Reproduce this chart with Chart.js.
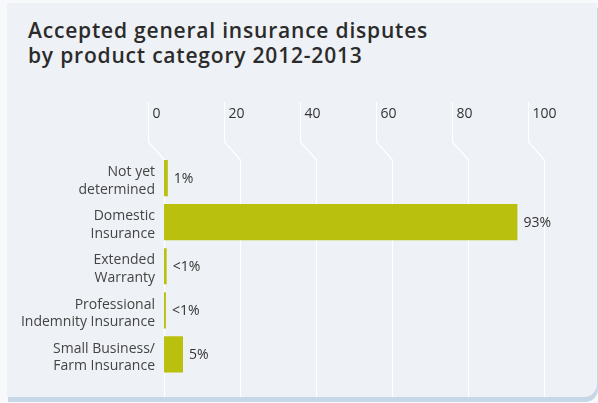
<!DOCTYPE html>
<html>
<head>
<meta charset="utf-8">
<script src="https://cdn.jsdelivr.net/npm/chart.js@4.4.1/dist/chart.umd.min.js"></script>
<style>
  html, body { margin: 0; padding: 0; background: #f7f9fb; }
  #wrap { position: relative; width: 598px; height: 403px; overflow: hidden; }
  #card {
    position: absolute; left: 7px; top: 3px; width: 590px; height: 394px;
    background: #eef1f5; border-bottom-right-radius: 13px;
    box-shadow: 1px 5px 0 #c6d7e7;
  }
  #title {
    position: absolute; left: 28px; top: 18px; margin: 0;
    font: 600 21px "Open Sans", sans-serif; line-height: 25px;
    letter-spacing: 0.8px; color: #2b2b2b;
  }
  #chart { position: absolute; left: 0; top: 0; }
</style>
</head>
<body>
<div id="wrap">
  <div id="card"></div>
  <h2 id="title">Accepted general insurance disputes<br>by product category 2012-2013</h2>
  <canvas id="chart" width="598" height="403"></canvas>
</div>
<script>
// categories, shares (%) and the printed labels
const categories = [
  ['Not yet', 'determined'],
  ['Domestic', 'Insurance'],
  ['Extended', 'Warranty'],
  ['Professional', 'Indemnity Insurance'],
  ['Small Business/', 'Farm Insurance']
];
const shares = [1, 93, 0.7, 0.5, 5];
const shareLabels = ['1%', '93%', '<1%', '<1%', '5%'];
const xTicks = [0, 20, 40, 60, 80, 100];

const FONT = '"Open Sans", sans-serif';

// white gridlines with a little jog under each tick label
const jogGrid = {
  id: 'jogGrid',
  beforeDatasetsDraw(chart) {
    const ctx = chart.ctx;
    const xs = chart.scales.x;
    ctx.save();
    ctx.strokeStyle = '#ffffff';
    ctx.lineWidth = 1.3;
    ctx.fillStyle = '#333';
    ctx.font = '14px ' + FONT;
    ctx.textAlign = 'left';
    ctx.textBaseline = 'middle';
    xTicks.forEach(v => {
      const x = Math.round(xs.getPixelForValue(v)) + 0.5;
      ctx.beginPath();
      ctx.moveTo(x - 16, 102);
      ctx.lineTo(x - 16, 142);
      ctx.lineTo(x, 160);
      ctx.lineTo(x, 397);
      ctx.stroke();
      ctx.fillText(String(v), x - 12, 114);
    });
    ctx.restore();
  }
};

// percentage text just past the end of each bar
const barValues = {
  id: 'barValues',
  afterDatasetsDraw(chart) {
    const ctx = chart.ctx;
    const meta = chart.getDatasetMeta(0);
    ctx.save();
    ctx.fillStyle = '#333';
    ctx.font = '14px ' + FONT;
    ctx.textAlign = 'left';
    ctx.textBaseline = 'middle';
    meta.data.forEach((bar, i) => {
      ctx.fillText(shareLabels[i], bar.x + 6, bar.y + 1);
    });
    ctx.restore();
  }
};

new Chart(document.getElementById('chart'), {
  type: 'bar',
  data: {
    labels: categories,
    datasets: [{
      data: shares,
      backgroundColor: '#b9c00e',
      borderWidth: 0,
      categoryPercentage: 1,
      barPercentage: 0.82
    }]
  },
  options: {
    indexAxis: 'y',
    responsive: false,
    animation: false,
    events: [],
    layout: { padding: { top: 156, bottom: 17, left: 0, right: 54 } },
    plugins: { legend: { display: false }, tooltip: { enabled: false } },
    scales: {
      x: { display: false, min: 0, max: 100 },
      y: {
        grid: { display: false, drawTicks: false },
        border: { display: false },
        afterFit(scale) { scale.width = 164; },
        ticks: {
          padding: 9,
          labelOffset: 3,
          color: '#444',
          font: { family: FONT, size: 14, lineHeight: 1.25 }
        }
      }
    }
  },
  plugins: [jogGrid, barValues]
});
</script>
</body>
</html>
